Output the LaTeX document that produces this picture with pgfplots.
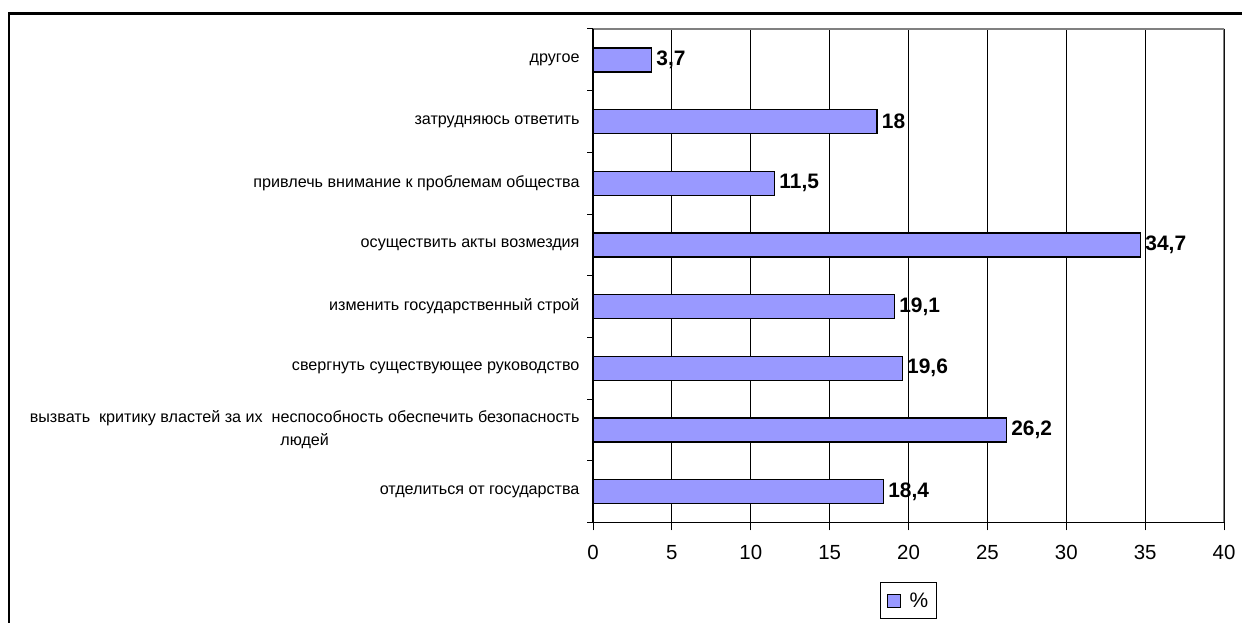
\documentclass[border=0pt]{standalone}
\usepackage{pgfplots}
\pgfplotsset{compat=1.18}
\usepackage{fontspec}
\setmainfont{Liberation Sans}
\definecolor{barfill}{HTML}{9999FF}
\definecolor{edgegray}{HTML}{808080}
\begin{document}
\begin{tikzpicture}[x=1bp,y=1bp]
\useasboundingbox (0,0) rectangle (1242,623);
\fill[white] (0,0) rectangle (1242,623);
\draw[line width=2.5bp] (9,-20) -- (9,609.5) -- (1260,609.5);
\begin{axis}[
  at={(593bp,100.5bp)}, anchor=south west,
  scale only axis, width=631bp, height=493.5bp,
  xbar, bar width=24bp,
  xmin=0, xmax=40, ymin=-0.5, ymax=7.5,
  /pgf/number format/assume math mode=true,
  xtick={0,5,...,40},
  xmajorgrids,
  major grid style={black, line width=1.2bp},
  axis line style={draw=none},
  tick align=outside,
  tick pos=left,
  major tick length=8bp,
  minor tick length=6bp,
  tick style={black, line width=1bp},
  every major y tick/.style={draw=none},
  ytick={0,...,7},
  minor ytick={-0.5,0.5,...,7.5},
  yticklabels={
    отделиться от государства,
    {вызвать\ \ критику властей за их\ \ неспособность обеспечить безопасность\\людей},
    свергнуть существующее руководство,
    изменить государственный строй,
    осуществить акты возмездия,
    привлечь внимание к проблемам общества,
    затрудняюсь ответить,
    другое},
  yticklabel style={font=\fontsize{16.2}{23}\selectfont, align=center, xshift=-2bp},
  xticklabel style={font=\fontsize{20.5}{24}\selectfont, yshift=-11bp},
  nodes near coords={\pgfmathprintnumber[use comma,assume math mode=true]{\pgfplotspointmeta}},
  nodes near coords style={font=\bfseries\fontsize{21}{24}\selectfont, anchor=west, xshift=1bp},
  legend style={at={(0.5,0)}, anchor=north, yshift=-60bp, draw=black, line width=0.8bp,
    font=\fontsize{21}{24}\selectfont, inner xsep=6bp, inner ysep=8bp,
    /tikz/every odd column/.append style={column sep=7bp}},
  legend image code/.code={\draw[#1, line width=1bp] (0bp,-7bp) rectangle (13bp,6bp);},
]
\addplot[fill=barfill, draw=black, line width=1.4bp] coordinates {
  (18.4,0) (26.2,1) (19.6,2) (19.1,3) (34.7,4) (11.5,5) (18,6) (3.7,7)};
\addlegendentry{\%}
\draw[edgegray, line width=1.5bp] (rel axis cs:0,1) -- (rel axis cs:1,1) -- (rel axis cs:1,0);
\draw[black, line width=1.5bp] (rel axis cs:0,1) -- (rel axis cs:0,0) -- (rel axis cs:1,0);
\end{axis}
\end{tikzpicture}
\end{document}
